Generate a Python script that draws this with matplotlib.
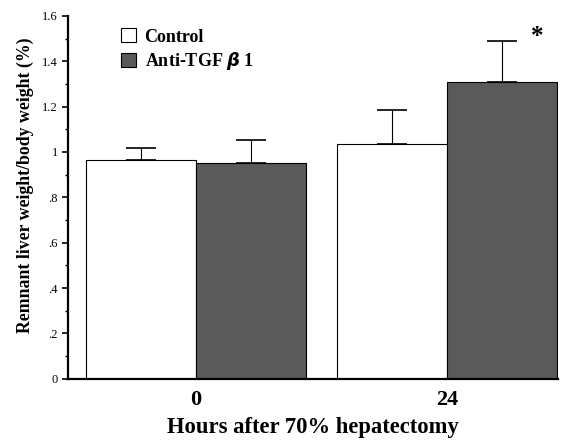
import numpy as np
import matplotlib.pyplot as plt
from matplotlib.ticker import MultipleLocator, FuncFormatter

plt.rcParams['font.family'] = ['Liberation Serif', 'DejaVu Serif']

hours = ['0', '24']
control = [0.965, 1.035]
control_err = [0.053, 0.151]
anti = [0.951, 1.31]
anti_err = [0.102, 0.18]


def fmt(v, pos):
    if abs(v) < 1e-9:
        return '0'
    if abs(v - round(v)) < 1e-9:
        return '%d' % round(v)
    return ('%.1f' % v).lstrip('0')


fig = plt.figure(figsize=(5.68, 4.40), dpi=100)
ax = fig.add_axes([0.12, 0.139, 0.862, 0.825])

x = np.arange(len(hours))
w = 0.438
ax.bar(x - w / 2, control, w, color='white', edgecolor='black', linewidth=0.8,
       label='Control', zorder=2)
ax.bar(x + w / 2, anti, w, color='#5a5a5a', edgecolor='black', linewidth=0.8,
       label=r'Anti-TGF $\boldsymbol{\beta}$ 1', zorder=2)
ax.errorbar(x - w / 2, control, yerr=[np.zeros(2), control_err], fmt='none',
            ecolor='black', elinewidth=0.8, capsize=10.5, capthick=1.2, zorder=3)
ax.errorbar(x + w / 2, anti, yerr=[np.zeros(2), anti_err], fmt='none',
            ecolor='black', elinewidth=0.8, capsize=10.5, capthick=1.2, zorder=3)

ax.text(1 + w / 2 + 0.115, anti[1] + anti_err[1] + 0.02, '*', fontsize=18,
        fontweight='bold', ha='left', va='center')

ax.set_xlim(-0.51, 1 + w + 0.004)
ax.set_ylim(0, 1.6)
ax.yaxis.set_major_locator(MultipleLocator(0.2))
ax.yaxis.set_minor_locator(MultipleLocator(0.1))
ax.yaxis.set_major_formatter(FuncFormatter(fmt))
ax.set_xticks(x)
ax.set_xticklabels(hours, fontsize=16, fontweight='bold')
ax.tick_params(axis='x', length=0, pad=8)
ax.tick_params(axis='y', which='major', length=4, width=1.2, labelsize=9)
ax.tick_params(axis='y', which='minor', length=2, width=1)

for s in ['top', 'right']:
    ax.spines[s].set_visible(False)
ax.spines['left'].set_linewidth(1.6)
ax.spines['bottom'].set_linewidth(1.6)

ax.set_xlabel('Hours after 70% hepatectomy', fontsize=16.3, fontweight='bold',
              labelpad=5)
ax.set_ylabel('Remnant liver weight/body weight (%)', fontsize=12.8,
              fontweight='bold', labelpad=6)
ax.yaxis.label.set_y(0.534)

leg = ax.legend(loc='upper left', bbox_to_anchor=(0.075, 1.01), frameon=False,
                prop={'weight': 'bold', 'size': 13}, handlelength=0.8,
                handleheight=0.8, handletextpad=0.5, labelspacing=0.25)

fig.savefig('out.png', dpi=100)
